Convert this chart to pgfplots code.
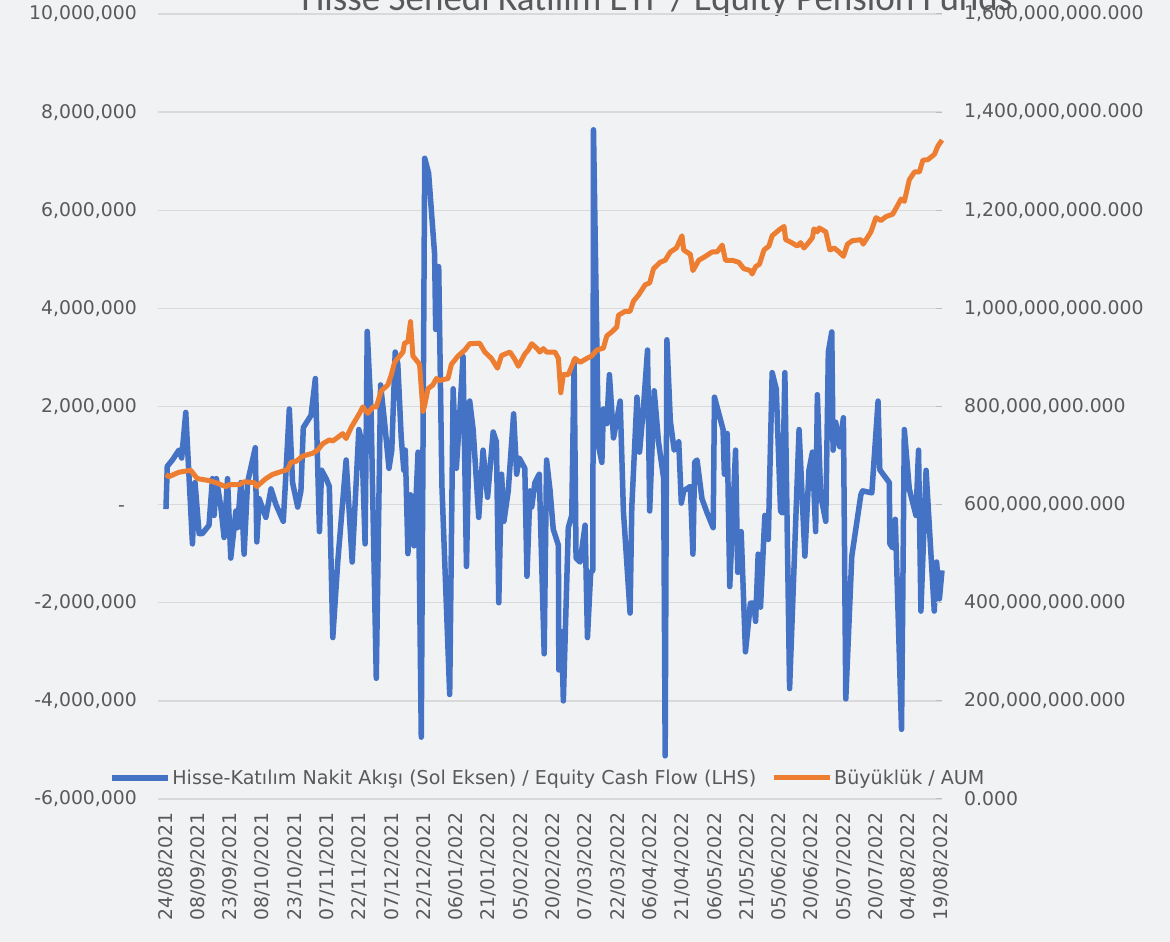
\documentclass[border=0pt]{standalone}
\usepackage{fontspec}
\setmainfont{DejaVu Sans}
\newfontfamily\titlefont{Carlito}
\usepackage{pgfplots}
\pgfplotsset{compat=1.18}
\definecolor{bg}{HTML}{F1F2F4}
\definecolor{txt}{HTML}{595959}
\definecolor{gridc}{HTML}{D9D9D9}
\definecolor{flowblue}{HTML}{4472C4}
\definecolor{aumorange}{HTML}{ED7D31}
\newcommand{\tickfont}{\fontsize{18.8bp}{22bp}\selectfont}
\newcommand{\legfont}{\fontsize{19.1bp}{22bp}\selectfont}

\begin{document}
\begin{tikzpicture}
\useasboundingbox (0,0) rectangle (1170bp,942bp);
\fill[bg] (0,0) rectangle (1170bp,942bp);
\node[anchor=base,inner sep=0pt,text=txt,font=\titlefont\fontsize{37bp}{40bp}\selectfont] at (657bp,931bp) {Hisse Senedi Katılım EYF / Equity Pension Funds};

% left axis: cash flow, in millions
\begin{axis}[at={(158bp,143bp)},anchor=south west,scale only axis,width=784bp,height=785bp,
  xmin=-3.7,xmax=360.5,ymin=-6,ymax=10,
  axis line style={draw=none},major tick length=0pt,
  xtick={0,15,...,360},
  xticklabels={24/08/2021,08/09/2021,23/09/2021,08/10/2021,23/10/2021,07/11/2021,22/11/2021,07/12/2021,22/12/2021,06/01/2022,21/01/2022,05/02/2022,20/02/2022,07/03/2022,22/03/2022,06/04/2022,21/04/2022,06/05/2022,21/05/2022,05/06/2022,20/06/2022,05/07/2022,20/07/2022,04/08/2022,19/08/2022},
  xticklabel style={yshift=-13bp,rotate=90,anchor=east,inner sep=0pt,font=\tickfont,text=txt},
  ytick={-6,-4,...,10},
  yticklabels={{-6,000,000},{-4,000,000},{-2,000,000},{-\phantom{0}},{2,000,000},{4,000,000},{6,000,000},{8,000,000},{10,000,000}},
  yticklabel style={anchor=east,inner sep=0pt,xshift=-21bp,font=\tickfont,text=txt},
  ymajorgrids=true,grid style={gridc,line width=1.3bp},
  clip=false]
\addplot[flowblue,line width=5.5bp,line join=round] coordinates {
(0,-0.09)(0.6,0.78)(3.0,0.91)(6.0,1.11)(7.3,0.95)(9.2,1.88)(12.3,-0.80)(13.5,0.45)(15.4,-0.59)(16.9,-0.59)
(20.0,-0.42)(21.6,0.53)(22.4,-0.22)(23.4,0.53)(25.5,-0.05)(27.0,-0.67)(28.6,0.53)(30.1,-1.09)(32.5,-0.13)(33.2,-0.47)
(34.8,0.45)(36.3,-1.01)(37.9,0.45)(41.5,1.16)(42.2,-0.76)(43.3,0.12)(46.4,-0.26)(48.8,0.32)(51.1,0)(54.5,-0.34)
(55.4,0.37)(57.3,1.95)(58.8,0.45)(61.2,-0.05)(62.7,0.28)(63.8,1.57)(67.4,1.82)(69.4,2.57)(71.3,-0.55)(72.3,0.70)
(74.4,0.53)(75.9,0.37)(77.5,-2.71)(79.8,-1.17)(83.7,0.91)(86.5,-1.17)(89.6,1.53)(91.0,1.28)(92.5,-0.80)(93.5,3.53)
(95.3,1.86)(97.7,-3.54)(99.7,2.44)(101.5,1.70)(103.6,0.74)(104.9,1.11)(106.5,3.11)(107.7,2.86)(109.3,1.36)(110.5,0.70)
(111.2,1.11)(112.4,-1.00)(113.6,0.20)(115.2,-0.84)(117.1,1.07)(118.6,-4.74)(120.2,7.06)(122.0,6.76)(124.8,5.10)(125.3,3.57)
(126.7,4.85)(128.2,0.37)(131.8,-3.87)(133.4,2.36)(134.9,0.74)(136.5,1.86)(138.0,3.02)(139.6,-1.26)(141.1,2.11)(142.7,1.53)
(145.3,-0.26)(147.3,1.11)(149.4,0.15)(152.0,1.48)(153.5,1.28)(154.6,-2.00)(155.9,0.62)(157.0,-0.34)(159.0,0.28)(161.5,1.85)
(162.9,0.62)(164.1,0.95)(166.7,0.74)(167.7,-1.46)(169.1,0.28)(169.9,-0.05)(171.4,0.45)(173.4,0.62)(175.7,-3.04)(176.8,0.91)
(178.4,0.30)(179.9,-0.50)(182.3,-0.83)(182.5,-3.37)(183.8,-2.59)(184.6,-4.00)(186.9,-0.47)(188.5,-0.22)(189.6,2.94)(190.5,-1.09)
(192.4,-1.17)(194.7,-0.42)(195.8,-2.71)(197.3,-1.38)(198.3,-1.34)(198.6,7.64)(200.9,1.20)(202.5,0.86)(203.2,1.95)(204.8,1.65)
(206.0,2.65)(207.9,1.36)(211.0,2.11)(212.5,-0.13)(215.6,-2.21)(216.4,-0.05)(218.8,2.19)(220.0,1.07)(221.9,2.03)(223.7,3.15)
(224.7,-0.13)(226.8,2.32)(228.8,1.28)(231.2,0.53)(231.9,-5.12)(232.7,3.36)(234.3,1.70)(236.1,1.11)(238.2,1.28)(239.4,0.03)
(240.5,0.28)(243.6,0.37)(244.8,-1.01)(245.6,0.86)(246.7,0.91)(249.0,0.12)(251.4,-0.17)(254.2,-0.47)(254.8,2.19)(258.8,1.53)
(259.4,0.62)(260.7,1.45)(261.9,-1.67)(264.6,1.11)(265.6,-1.38)(267.2,-0.55)(269.2,-3.00)(271.5,-2.01)(273.1,-2.01)(273.9,-2.38)
(275.1,-1.01)(276.2,-2.09)(278.2,-0.22)(279.8,-0.71)(281.6,2.69)(283.5,2.36)(285.5,-0.13)(286.3,-0.17)(287.5,2.69)(289.7,-3.75)
(294.1,1.53)(296.8,-1.05)(298.7,0.70)(300.3,1.07)(301.8,-0.55)(302.6,2.24)(304.1,0.20)(306.5,-0.34)(307.7,3.11)(309.3,3.52)
(309.9,1.11)(311.1,1.68)(313.0,1.18)(314.7,1.77)(315.8,-3.96)(318.6,-1.05)(322.8,0.20)(323.6,0.28)(327.9,0.24)(330.8,2.11)
(331.6,0.71)(336.0,0.45)(336.3,-0.80)(337.5,-0.88)(338.8,-0.30)(341.7,-4.58)(343.0,1.53)(345.3,0.32)(348.4,-0.22)(349.6,1.11)
(350.7,-2.17)(353.1,0.70)(356.9,-2.17)(358.0,-1.17)(359.3,-1.92)(360.5,-1.34)};
\end{axis}

% right axis: AUM, in millions
\begin{axis}[at={(158bp,143bp)},anchor=south west,scale only axis,width=784bp,height=785bp,
  xmin=-3.7,xmax=360.5,ymin=0,ymax=1600,
  axis x line=none,axis y line*=right,axis line style={draw=none},
  tick align=inside,major tick length=6bp,ytick style={gridc!70!gray,line width=1bp},
  ytick={0,200,...,1600},
  yticklabels={{0.000},{200,000,000.000},{400,000,000.000},{600,000,000.000},{800,000,000.000},{1,000,000,000.000},{1,200,000,000.000},{1,400,000,000.000},{1,600,000,000.000}},
  yticklabel style={anchor=west,inner sep=0pt,xshift=22bp,font=\tickfont,text=txt},
  legend style={at={(0.497,0.027)},anchor=center,draw=none,fill=none,font=\legfont,text=txt,
    legend columns=2,nodes={inner sep=1.5bp},
    /tikz/every even column/.append style={column sep=14bp}},
  legend image code/.code={\draw[#1] (0bp,0bp) -- (56bp,0bp);},
  clip=false]
\addlegendimage{flowblue,line width=5.5bp}
\addlegendentry{Hisse-Katılım Nakit Akışı (Sol Eksen) / Equity Cash Flow (LHS)}
\addplot[aumorange,line width=5bp,line join=round] coordinates {
(0,661.5)(1.4,657)(6.0,666)(11.5,670)(13.0,661.5)(14.6,653)(20.0,649)(23.1,645)(27.8,636.6)(29.3,640.7)
(34.0,640.7)(36.3,646.5)(41.0,645)(42.1,636.6)(46.4,653)(49.5,661.5)(52.6,666)(56.5,671.5)(58.1,686.5)(60.4,688)
(63.5,699)(68.2,704.7)(70.5,711.4)(72.8,724)(75.9,732)(77.5,729.7)(82.1,744.6)(83.7,734.7)(86.0,757)(89.9,786)
(91.4,799)(93.8,786)(96.1,799)(97.7,799)(100.0,832)(103.1,844)(104.7,865)(106.2,890)(110.1,911)(110.8,929)
(112.4,932)(113.6,973)(114.7,903)(117.8,886)(119.4,790)(120.2,803)(121.7,836)(124.0,844)(125.6,857)(127.1,853)
(131.0,857)(132.6,886)(135.7,903)(138.8,915)(141.1,928)(145.7,929)(148.1,911)(151.2,898)(154.0,878)(155.9,904)
(159.8,911)(161.8,898)(163.7,882)(166.7,907)(168.3,915)(169.9,928)(172.2,919)(173.7,911)(175.3,918)(176.8,911)
(180.7,911)(182.3,898)(183.4,828)(184.6,865)(186.9,865)(190.0,898)(192.4,890)(195.5,898)(197.8,903)(200.1,915)
(203.2,919)(204.8,944)(207.1,952)(209.4,962)(210.2,986)(213.3,994)(215.6,994)(217.2,1015)(219.5,1027)(222.6,1048)
(224.7,1052)(226.5,1081)(229.6,1094)(231.9,1098)(234.3,1115)(237.1,1123)(239.7,1148)(240.5,1119)(243.6,1110)(244.8,1077)
(247.5,1098)(250.6,1106)(253.7,1115)(256.0,1115)(258.4,1129)(259.9,1098)(263.0,1098)(266.1,1094)(268.4,1081)(271.5,1077)
(272.3,1070)(273.9,1085)(275.7,1090)(277.8,1119)(280.1,1127)(281.6,1148)(284.8,1160)(287.1,1167)(287.9,1140)(290.2,1135)
(293.3,1127)(294.8,1134)(296.4,1123)(298.7,1135)(300.3,1144)(301.0,1162)(302.6,1156)(303.4,1164)(306.5,1156)(308.4,1119)
(310.4,1123)(312.7,1115)(314.7,1106)(316.6,1131)(318.9,1138)(322.8,1140)(323.9,1131)(327.5,1156)(329.8,1185)(332.1,1179)
(334.5,1187)(337.6,1192)(339.9,1210)(341.5,1223)(343.0,1218)(345.3,1262)(347.7,1278)(350.0,1278)(351.6,1302)(353.9,1303)
(357.0,1314)(358.6,1331)(360.5,1343)};
\addlegendentry{Büyüklük / AUM}
\end{axis}
\end{tikzpicture}
\end{document}
